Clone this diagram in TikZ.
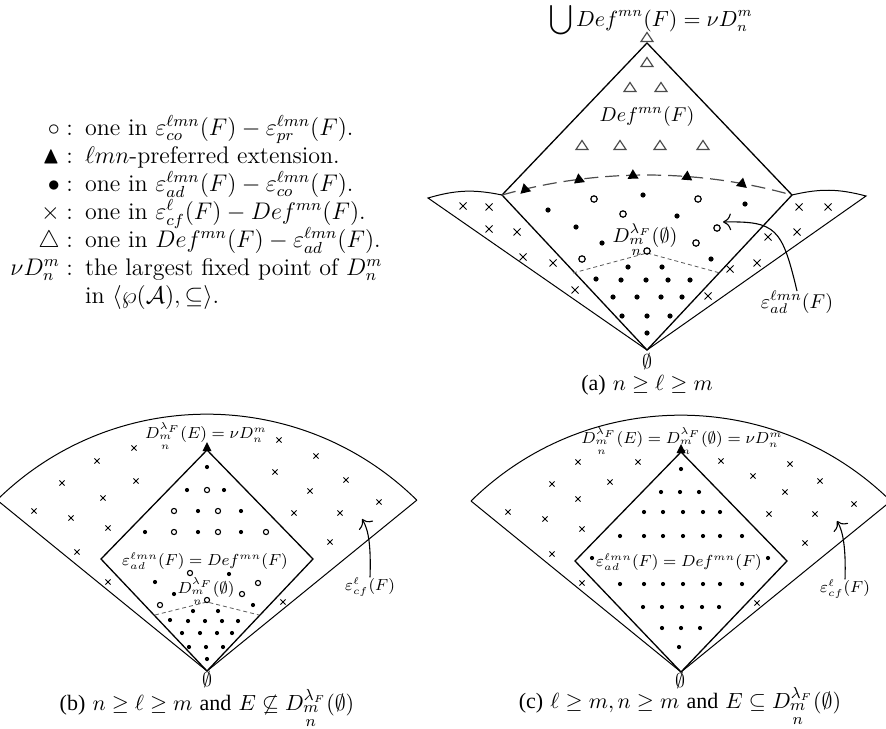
\documentclass[tikz,border=0pt]{standalone}
\usepackage{amsmath,amssymb}
\usepackage{fontspec}
\newfontfamily\timesf{Liberation Serif}
\usetikzlibrary{arrows.meta}
\begin{document}
\begin{tikzpicture}[x=0.5pt,y=-0.5pt,
  every node/.style={inner sep=0pt, outer sep=0pt},
  legtxt/.style={anchor=base west, font=\fontsize{12}{14}\selectfont},
  legsym/.style={anchor=base east, font=\fontsize{12}{14}\selectfont},
  toplab/.style={anchor=base, font=\fontsize{10.5}{12}\selectfont},
  biglab/.style={anchor=base, font=\fontsize{10}{12}\selectfont},
  midlab/.style={anchor=base, font=\fontsize{7.6}{9}\selectfont},
  captxt/.style={anchor=base, font=\fontsize{11}{13}\selectfont},
  frame/.style={line width=0.65pt, line join=miter},
  fan/.style={line width=0.5pt},
  sepdash/.style={line width=0.4pt, black!65, dash pattern=on 2pt off 1.5pt},
  prefarc/.style={line width=0.6pt, black!70, dash pattern=on 7pt off 3.5pt},
  xA/.style={line width=0.45pt},
  xB/.style={line width=0.4pt},
  opentri/.style={line width=0.6pt, black!70},
  ptr/.style={line width=0.55pt, -{To[length=4pt]}},
]
\useasboundingbox (0,0) rectangle (886,728);
\clip (0,0) rectangle (886,728);

% ---------------- legend ----------------
\node[legsym] (s1) at (73,135) {$\circ:$};
\node[legtxt] (t1) at (85,135) {one in $\varepsilon^{\ell mn}_{co}(F)-\varepsilon^{\ell mn}_{pr}(F)$.};
\node[legsym] (s2) at (73,163) {$\blacktriangle:$};
\node[legtxt] (t2) at (85,163) {$\ell mn$-preferred extension.};
\node[legsym] (s3) at (73,191) {$\bullet:$};
\node[legtxt] (t3) at (85,191) {one in $\varepsilon^{\ell mn}_{ad}(F)-\varepsilon^{\ell mn}_{co}(F)$.};
\node[legsym] (s4) at (73,219) {$\times:$};
\node[legtxt] (t4) at (85,219) {one in $\varepsilon^{\ell}_{cf}(F)-Def^{mn}(F)$.};
\node[legsym] (s5) at (73,247) {$\triangle:$};
\node[legtxt] (t5) at (85,247) {one in $Def^{mn}(F)-\varepsilon^{\ell mn}_{ad}(F)$.};
\node[legsym] (s6) at (73,275) {$\nu D^m_n:$};
\node[legtxt] (t6) at (85,275) {the largest fixed point of $D^m_n$};
\node[legtxt] (t7) at (85,303) {in $\langle\wp(\mathcal{A}),\subseteq\rangle$.};

% ---------------- diagram (a) ----------------
\coordinate (aT) at (647,43);
\coordinate (aL) at (502,195);
\coordinate (aR) at (792,195);
\coordinate (aB) at (647,350);
\coordinate (aWL) at (428,198);
\coordinate (aWR) at (866,196);
\draw[fan] (aB) -- (aWL) to[bend left=14] (aL);
\draw[fan] (aB) -- (aWR) to[bend right=14] (aR);
\draw[frame] (aB) -- (aL) -- (aT) -- (aR) -- cycle;
\draw[prefarc] (aL) arc[start angle=254.3, end angle=285.7, radius=535.6];
\foreach \x/\y/\r in {525/189.1/13.2, 579/179.3/7.3, 633/175.2/1.5, 687/176.5/-4.3, 742/183.5/-10.2}
  \fill[shift={(\x,\y)}, rotate=\r] (0,-6) -- (5.5,3.5) -- (-5.5,3.5) -- cycle;
\foreach \p in {(647,38),(647,63),(630,88),(661,88),(582,146),(620,146),(660,146),(703,146)}
  \draw[opentri] \p ++(0,-5.5) -- ++(6,9) -- ++(-12,0) -- cycle;
\draw[sepdash] (573,273) -- (647,253) -- (720,273);
\foreach \p in {(594,199),(698,199),(623,214),(717,228),(696,243),(647,251),(582,259)}
  \draw[line width=0.6pt] \p circle[radius=3.2];
\foreach \p in {(643,195),(548,210),(745,204),(677,216),(576,227),(602,243),(711,259),
  (628,267),(662,267),(596,279),(621,280),(646,280),(668,280),(690,280),
  (613,297),(637,297),(661,297),(682,297),(622,316),(647,316),(670,316),(647,333)}
  \fill \p circle[radius=2.6];
\foreach \p in {(463,206),(489,207),(489,229),(517,232),(523,257),(553,263),(575,290),
  (799,207),(828,207),(768,237),(797,232),(730,269),(757,263),(708,296)}
  \draw[xA] \p +(-3.5,-3.5) -- +(3.5,3.5) +(-3.5,3.5) -- +(3.5,-3.5);
\node[toplab] (atop) at (651,26) {$\displaystyle\bigcup Def^{mn}(F)=\nu D^m_n$};
\node[biglab] (adef) at (647,121) {$Def^{mn}(F)$};
\node[biglab] (adl) at (645,242) {$D^{\lambda_F}_{\substack{m\\n}}(\emptyset)$};
\node[biglab] (aeps) at (797,308) {$\varepsilon^{\ell mn}_{ad}(F)$};
\node[biglab] (aempty) at (647,368) {$\emptyset$};
\node[captxt] (acap) at (647,390) {{\timesf (a)} $n\geq\ell\geq m$};
\draw[ptr] (aeps.north) .. controls (782,228) and (776,221) .. (723,222);

% ---------------- diagram (b) ----------------
\coordinate (bB) at (207,671);
\coordinate (bT) at (207,450);
\coordinate (bL) at (101,559);
\coordinate (bR) at (313,559);
\coordinate (bFL) at (-3,500);
\coordinate (bFR) at (417,500);
\draw[fan] (bFL) -- (bB) -- (bFR);
\draw[fan] (bFL) arc[start angle=225.5, end angle=314.5, radius=299.4];
\draw[frame] (bB) -- (bL) -- (bT) -- (bR) -- cycle;
\fill (207,442) -- (211.5,451) -- (202.5,451) -- cycle;
\draw[sepdash] (155,615) -- (207,602) -- (259,615);
\foreach \p in {(134,448),(97,461),(62,483),(136,481),(103,498),(34,511),(71,518),(108,528),(77,552),(108,582),
  (279,440),(316,456),(275,472),(346,480),(310,491),(379,502),(294,513),(340,513),(330,542),(283,602)}
  \draw[xB] \p +(-2.6,-2.6) -- +(2.6,2.6) +(-2.6,2.6) -- +(2.6,-2.6);
\foreach \p in {(207,467),(187,490),(224,490),(198,511),(241,511),(145,532),(198,532),(241,532),
  (229,574),(155,582),(174,594),(253,605),(193,611),(218,611),(170,620),(188,621),(205,621),(222,621),(238,621),
  (182,633),(200,633),(217,633),(232,633),(189,647),(206,647),(223,647),(207,659)}
  \fill \p circle[radius=2.1];
\foreach \p in {(207,490),(174,511),(218,511),(174,532),(218,532),(266,532),(190,573),(258,583),(242,594),(160,605),(207,600)}
  \draw[line width=0.55pt] \p circle[radius=2.6];
\node[midlab] (btop) at (206,438) {$D^{\lambda_F}_{\substack{m\\n}}(E)=\nu D^m_n$};
\node[midlab] (beps) at (205,565) {$\varepsilon^{\ell mn}_{ad}(F)=Def^{mn}(F)$};
\node[midlab] (bdl) at (206,593) {$D^{\lambda_F}_{\substack{m\\n}}(\emptyset)$};
\node[midlab] (bcf) at (370,590) {$\varepsilon^{\ell}_{cf}(F)$};
\node[biglab] (bempty) at (207,686) {$\emptyset$};
\node[captxt] (bcap) at (207,710) {{\timesf (b)} $n\geq\ell\geq m$ {\timesf and} $E\not\subseteq D^{\lambda_F}_{\substack{m\\n}}(\emptyset)$};
\draw[ptr] (bcf.north) .. controls (371,548) and (369,530) .. (362,519);

% ---------------- diagram (c) ----------------
\coordinate (cB) at (681,672);
\coordinate (cT) at (681,452);
\coordinate (cL) at (575,561);
\coordinate (cR) at (787,561);
\coordinate (cFL) at (471,501);
\coordinate (cFR) at (891,501);
\draw[fan] (cFL) -- (cB) -- (cFR);
\draw[fan] (cFL) arc[start angle=225.5, end angle=314.5, radius=299.4];
\draw[frame] (cB) -- (cL) -- (cT) -- (cR) -- cycle;
\fill (681,444) -- (685.5,453) -- (676.5,453) -- cycle;
\foreach \p in {(578,462),(638,462),(552,484),(610,482),(578,499),(508,512),(545,519),(582,529),(552,554),(582,583),
  (721,461),(790,464),(753,476),(820,481),(785,492),(854,504),(769,514),(815,514),(805,543),(757,603)}
  \draw[xB] \p +(-2.6,-2.6) -- +(2.6,2.6) +(-2.6,2.6) -- +(2.6,-2.6);
\foreach \p in {(681,469),(661,492),(680,492),(699,492),
  (644,512),(663,512),(683,512),(703,512),(720,512),
  (620,536),(644,536),(663,536),(683,536),(703,536),(720,536),(742,536),
  (592,558),(768,558),
  (620,584),(644,584),(663,584),(683,584),(703,584),(720,584),(742,584),
  (643,607),(662,607),(682,607),(702,607),(719,607),
  (662,628),(681,628),(700,628),(679,647)}
  \fill \p circle[radius=2.1];
\node[midlab] (ctop) at (682,443) {$D^{\lambda_F}_{\substack{m\\n}}(E)=D^{\lambda_F}_{\substack{m\\n}}(\emptyset)=\nu D^m_n$};
\node[midlab] (ceps) at (679,566) {$\varepsilon^{\ell mn}_{ad}(F)=Def^{mn}(F)$};
\node[midlab] (ccf) at (845,592) {$\varepsilon^{\ell}_{cf}(F)$};
\node[biglab] (cempty) at (680,687) {$\emptyset$};
\node[captxt] (ccap) at (680,708) {{\timesf (c)} $\ell\geq m, n\geq m$ {\timesf and} $E\subseteq D^{\lambda_F}_{\substack{m\\n}}(\emptyset)$};
\draw[ptr] (ccf.north) .. controls (846,548) and (843,531) .. (837,521);
\end{tikzpicture}
\end{document}
